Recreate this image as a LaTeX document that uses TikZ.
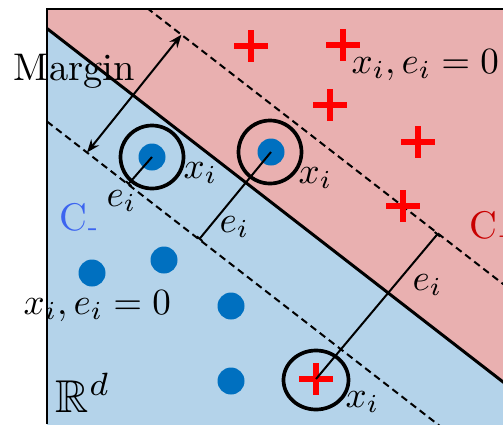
\RequirePackage{fix-cm}
\documentclass[tikz,border=0pt]{standalone}
\usepackage{amsmath,amssymb}
\DeclareFontFamily{U}{msb}{}
\DeclareFontShape{U}{msb}{m}{n}{<-6> msbm5 <6-8> msbm7 <8-> msbm10}{}
\usetikzlibrary{arrows.meta,calc,shapes.geometric}
\definecolor{pinkbg}{RGB}{233,176,176}
\definecolor{bluebg}{RGB}{180,211,234}
\definecolor{dotblue}{RGB}{0,112,192}
\definecolor{cminus}{RGB}{60,100,240}
\definecolor{cplus}{RGB}{200,0,0}
\definecolor{plusred}{RGB}{255,0,0}
\tikzset{
  dotnode/.style={circle, fill=dotblue, minimum size=27pt, inner sep=0pt},
  ringnode/.style={circle, draw=black, line width=3.7pt, minimum size=63pt, inner sep=0pt},
  ringell/.style={ellipse, draw=black, line width=3.7pt, minimum width=65pt, minimum height=59pt, inner sep=0pt},
  plussign/.style={rectangle, minimum width=34pt, minimum height=32pt, inner sep=0pt,
    path picture={\draw[plusred, line width=5.5pt]
      (path picture bounding box.west) -- (path picture bounding box.east)
      (path picture bounding box.north) -- (path picture bounding box.south);}},
  txtlbl/.style={anchor=base west, inner sep=0pt, scale=3.85},
  mathlbl/.style={anchor=base west, inner sep=0pt, scale=3.7},
  bblbl/.style={anchor=base west, inner sep=0pt, scale=4.6},
  boundary/.style={line width=3pt},
  marginline/.style={line width=2pt, dash pattern=on 7pt off 4.5pt},
  errline/.style={line width=2pt, -{Bar[width=7pt,line width=2pt]}},
  marginarrow/.style={line width=2pt, {Stealth[length=13pt,width=10pt]}-{Stealth[length=13pt,width=10pt]}}
}
\begin{document}
\begin{tikzpicture}[x=1pt, y=-1pt, font=\fontsize{10}{12}\selectfont]
\useasboundingbox (0,0) rectangle (503,424);
% lines
\coordinate (M1) at (47,28.5);
\coordinate (M2) at (520,395.1);
\coordinate (L1) at (47,121.5);
\coordinate (L2) at (520,488.1);
\coordinate (U1) at (47,-69.5);
\coordinate (U2) at (520,297.1);
\begin{scope}
  \clip (47,9) rectangle (503,424);
  \fill[pinkbg] (47,9) rectangle (503,424);
  \fill[bluebg] (M1) -- (M2) -- (540,460) -- (47,460) -- cycle;
  \draw[boundary] (M1) -- (M2);
  \draw[marginline] (L1) -- (L2);
  \draw[marginline] (U1) -- (U2);
\end{scope}
\draw[line width=2pt] (47,424) -- (47,9) -- (503,9);
% points
\node[dotnode] (d1) at (152,157) {};
\node[ringnode] (r1) at (152,157) {};
\node[dotnode] (d2) at (271,152) {};
\node[ringnode] (r2) at (270,152) {};
\node[dotnode] (d3) at (92,273) {};
\node[dotnode] (d4) at (164,260) {};
\node[dotnode] (d5) at (231,306) {};
\node[dotnode] (d6) at (231,381) {};
\node[plussign] (p1) at (251,46) {};
\node[plussign] (p2) at (343,45) {};
\node[plussign] (p3) at (330,105) {};
\node[plussign] (p4) at (418,142) {};
\node[plussign] (p5) at (403,206) {};
\node[plussign] (p6) at (316,379) {};
\node[ringell] (r3) at (316,380) {};
% error segments
\coordinate (f1) at (128,184.5);
\coordinate (f2) at (199,239.5);
\coordinate (f3) at (438,233.5);
\draw[errline] (d1.center) -- (f1);
\draw[errline] (d2.center) -- (f2);
\draw[errline] (p6.center) -- (f3);
% margin arrow
\coordinate (ma) at (87,152.5);
\coordinate (mb) at (181.5,34.7);
\draw[marginarrow] (ma) -- (mb);
% labels
\node[txtlbl] (tmargin) at (13,80) {Margin};
\node[mathlbl] (tzr) at (351,73) {$x_i, e_i = 0$};
\node[mathlbl] (tzl) at (23,314) {$x_i, e_i = 0$};
\node[mathlbl] (tx1) at (183,178) {$x_i$};
\node[mathlbl] (tx2) at (298,183) {$x_i$};
\node[mathlbl] (tx3) at (345,407) {$x_i$};
\node[mathlbl] (te1) at (106,206) {$e_i$};
\node[mathlbl] (te2) at (219,232) {$e_i$};
\node[mathlbl] (te3) at (412,290) {$e_i$};
\node[txtlbl, text=cminus] (tcm) at (59,230) {C$_{\text{-}}$};
\node[txtlbl, text=cplus] (tcp) at (469,238) {C$_{+}$};
\node[bblbl] (trd) at (55,412) {$\mathbb{R}^d$};
\end{tikzpicture}
\end{document}
